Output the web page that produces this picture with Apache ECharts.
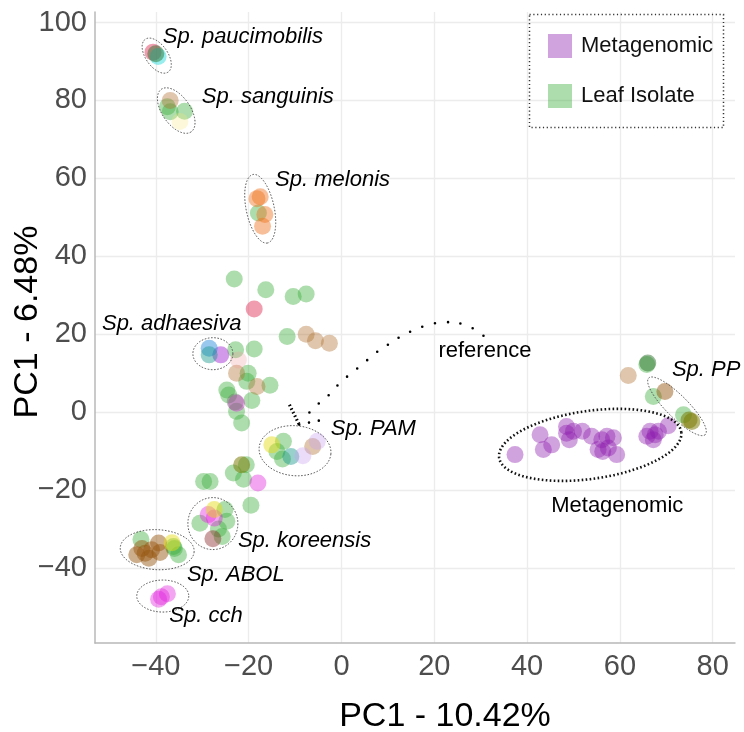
<!DOCTYPE html>
<html>
<head>
<meta charset="utf-8">
<script src="https://cdn.jsdelivr.net/npm/echarts@6/dist/echarts.min.js"></script>
<style>
  html, body { margin: 0; padding: 0; background: #ffffff; }
  #chart { width: 744px; height: 732px; }
</style>
</head>
<body>
<div id="chart"></div>
<script>
// ---- PCA scores (PC1 axis, PC2 axis) ----
const metagenomic = [[37.4,-10.9],[42.8,-5.8],[43.5,-9.6],[45.3,-8.4],[48.5,-3.7],[48.5,-5.4],[49.1,-7.1],
  [50.0,-4.9],[51.9,-4.9],[53.9,-6.2],[55.3,-9.6],[56.1,-7.1],[57.2,-6.2],[57.5,-9.2],[58.6,-6.6],
  [59.3,-10.9],[56.3,-10.1],[65.8,-6.2],[66.5,-4.9],[67.2,-7.1],[67.6,-5.8],[68.3,-4.9],[70.4,-3.5]];

const isolateGreen = [[-37.5,78.4],[-36.9,77.1],[-33.8,77.2],[-17.9,51.1],[-23.1,34.2],[-16.3,31.4],
  [-10.4,29.7],[-7.6,30.3],[-11.7,19.4],[-22.8,16.0],[-18.8,16.2],[-20.1,10.0],[-20.4,7.9],[-15.4,6.9],
  [-24.7,5.7],[-24.3,4.4],[-19.3,3.0],[-22.6,0.2],[-21.5,-2.8],[-12.5,-7.5],[-13.9,-10.1],[-12.7,-12.0],
  [-20.5,-13.5],[-23.3,-15.6],[-21.1,-17.2],[-29.7,-17.8],[-28.3,-17.8],[-19.5,-23.9],[-30.5,-28.5],
  [-25.1,-25.0],[-24.7,-28.0],[-25.7,-31.9],[-26.5,-30.0],[-43.2,-32.7],[-36.2,-34.5],[-35.1,-36.6],
  [-36.0,-35.0],[65.8,12.2],[67.2,4.0],[73.7,-0.7]];
const isolateTan = [[-36.9,80.0],[-7.6,20.0],[-5.6,18.3],[-2.6,17.7],[-22.6,10.0],[-18.2,6.6],[-6.2,-8.8],[61.8,9.4]];
const isolateBrown = [[-44.1,-36.6],[-42.3,-36.2],[-40.9,-35.3],[-39.4,-33.6],[-39.1,-36.0],[-41.5,-37.5],[-43.0,-35.0],[69.7,5.3]];
const isolateOrange = [[-18.2,54.8],[-17.5,55.3],[-16.5,50.7],[-17.0,47.7]];
const isolatePink = [[-18.8,26.5],[-40.6,92.4]];
const isolateBlush = [[-22.2,13.4]];
const isolateMagenta = [[-22.6,2.3],[-18.0,-18.2],[-28.7,-26.3],[-27.4,-27.2],[-39.4,-48.0],[-37.5,-46.6],[-38.8,-47.4]];
const isolateViolet = [[-26.0,14.7]];
const isolateYellow = [[-15.0,-8.4],[-27.4,-25.0],[-36.5,-33.5]];
const isolatePaleYellow = [[-34.8,74.6]];
const isolateBlue = [[-28.5,16.4]];
const isolateTeal = [[-28.5,14.7],[-10.9,-11.4]];
const isolateCyan = [[-39.5,91.3]];
const isolateLavender = [[-8.3,-11.2],[-5.2,-7.5]];
const isolateOlive = [[-21.5,-13.5],[74.9,-2.0],[75.5,-2.4]];
const isolateDarkGreen = [[-40.0,92.0],[66.0,12.6]];
const isolateMaroon = [[-27.7,-32.5]];
const isolateGray = [[-22.9,2.6]];

// ---- axis ticks ----
const xTicks = [-40, -20, 0, 20, 40, 60, 80];
const yTicks = [-40, -20, 0, 20, 40, 60, 80, 100];

// ---- group annotations: centre of each ellipse (data units) and label anchor ----
const groupNames   = ['Sp. paucimobilis','Sp. sanguinis','Sp. melonis','Sp. adhaesiva','Sp. PAM','Sp. koreensis','Sp. ABOL','Sp. cch','Sp. PP','Metagenomic'];
const groupCentres = [[-39.8,91.5],[-35.6,77.4],[-17.5,52.2],[-27.7,15.0],[-10.0,-9.9],[-27.7,-28.6],[-39.7,-35.3],[-38.5,-47.2],[72.3,1.5],[53.6,-8.4]];
const groupLabelAt = [[-38.5,96.3],[-30.1,81.0],[-14.3,59.6],[-51.6,22.6],[-2.3,-4.3],[-22.3,-33.0],[-33.3,-41.7],[-37.1,-52.4],[71.2,10.9],[45.2,-24.0]];

// reference arrow paths
const referenceCurve = [[-6.9,-0.1],[-4.8,2.3],[-2.6,4.5],[-0.9,6.8],[1.1,9.0],[3.3,11.1],[5.4,13.2],[7.5,15.3],
  [10.0,17.3],[12.6,19.3],[15.5,21.0],[18.9,22.4],[22.5,23.1],[26.1,22.6],[29.1,20.9],[31.4,18.8]];
const pamLeader = [[-9.1,-3.2],[-2.9,-1.7]];
const pamStub = [[-11.2,1.9],[-9.1,-3.2]];
const referenceLabelAt = [20.9, 15.8];

// ---- styling ----
const FONT = '"Liberation Sans", Arial, Helvetica, sans-serif';
const palette = {
  metagenomic: 'rgba(141,26,173,0.5)',
  green: 'rgba(51,170,51,0.5)',
  tan: 'rgba(176,112,48,0.5)',
  brown: 'rgba(150,85,15,0.6)',
  orange: 'rgba(238,112,24,0.55)',
  pink: 'rgba(225,50,90,0.6)',
  blush: 'rgba(240,150,150,0.35)',
  magenta: 'rgba(225,30,220,0.5)',
  violet: 'rgba(160,40,210,0.6)',
  yellow: 'rgba(230,220,20,0.6)',
  paleYellow: 'rgba(245,230,120,0.35)',
  blue: 'rgba(40,140,220,0.6)',
  teal: 'rgba(20,150,140,0.55)',
  cyan: 'rgba(40,220,220,0.6)',
  lavender: 'rgba(200,160,240,0.45)',
  olive: 'rgba(120,120,0,0.65)',
  darkGreen: 'rgba(40,110,40,0.6)',
  maroon: 'rgba(140,40,40,0.55)',
  gray: 'rgba(110,110,110,0.5)'
};
const isolateGroups = [
  [isolateGreen, 'green'], [isolateTan, 'tan'], [isolateBrown, 'brown'], [isolateOrange, 'orange'],
  [isolatePink, 'pink'], [isolateBlush, 'blush'], [isolateMagenta, 'magenta'], [isolateViolet, 'violet'],
  [isolateYellow, 'yellow'], [isolatePaleYellow, 'paleYellow'], [isolateBlue, 'blue'], [isolateTeal, 'teal'],
  [isolateCyan, 'cyan'], [isolateLavender, 'lavender'], [isolateOlive, 'olive'], [isolateDarkGreen, 'darkGreen'],
  [isolateMaroon, 'maroon'], [isolateGray, 'gray']
];
// ellipse outline geometry in screen pixels: [semi-major, semi-minor, tilt in degrees]
const ellipseShape = [[20,11,55],[26,14,55],[35,14,78],[20,16,0],[36,25,5],[25,26,0],[37,20,3],[26,16,0],[40,11,45],[92,34,-8]];
const italicLabel = [true,true,true,true,true,true,true,true,true,false];

const isolateData = [];
isolateGroups.forEach(([pts, key]) => {
  pts.forEach(p => isolateData.push({ value: p, itemStyle: { color: palette[key] } }));
});

const minus = v => String(v).replace('-', '\u2212');

const chart = echarts.init(document.getElementById('chart'), null, { renderer: 'canvas' });

const option = {
  backgroundColor: '#ffffff',
  animation: false,
  textStyle: { fontFamily: FONT },
  grid: { left: 95, right: 9, top: 12, bottom: 89 },
  xAxis: {
    type: 'value', min: -53.1, max: 84.8, splitNumber: 7, minInterval: 20, maxInterval: 20,
    axisLine: { show: true, onZero: false, lineStyle: { color: '#b8b8b8', width: 1.5 } },
    axisTick: { show: false },
    axisLabel: {
      color: '#4d4d4d', fontSize: 29, fontFamily: FONT, margin: 9,
      showMinLabel: false, showMaxLabel: false,
      formatter: v => xTicks.includes(v) ? minus(v) : ''
    },
    splitLine: { show: true, showMinLine: false, showMaxLine: false, lineStyle: { color: '#ececec', width: 1.3 } }
  },
  yAxis: {
    type: 'value', min: -59.25, max: 102.7, splitNumber: 8, minInterval: 20, maxInterval: 20,
    axisLine: { show: true, onZero: false, lineStyle: { color: '#b8b8b8', width: 1.5 } },
    axisTick: { show: false },
    axisLabel: {
      color: '#4d4d4d', fontSize: 29, fontFamily: FONT, margin: 8,
      showMinLabel: false, showMaxLabel: false,
      formatter: v => yTicks.includes(v) ? minus(v) : ''
    },
    splitLine: { show: true, showMinLine: false, showMaxLine: false, lineStyle: { color: '#ececec', width: 1.3 } }
  },
  legend: {
    data: ['Metagenomic', 'Leaf Isolate'],
    orient: 'vertical', left: 543, top: 29,
    itemWidth: 24, itemHeight: 24, itemGap: 26, icon: 'rect',
    selectedMode: false,
    textStyle: { fontSize: 22, color: '#111', fontFamily: FONT, padding: [0, 0, 0, 4] }
  },
  graphic: [
    { type: 'rect', left: 527, top: 12, z: 100,
      shape: { width: 194, height: 113 },
      style: { fill: null, stroke: '#333', lineWidth: 1.5, lineDash: [1.2, 2.6] } },
    { type: 'text', x: 445, y: 717, z: 100,
      style: { text: 'PC1 - 10.42%', fontSize: 34, fontFamily: FONT, fill: '#000', align: 'center', verticalAlign: 'middle' } },
    { type: 'text', x: 28, y: 322, rotation: Math.PI / 2, z: 100,
      style: { text: 'PC1 - 6.48%', fontSize: 34, fontFamily: FONT, fill: '#000', align: 'center', verticalAlign: 'middle' } }
  ],
  series: [
    {
      name: 'Leaf Isolate', type: 'scatter', symbolSize: 17, z: 2,
      itemStyle: { color: palette.green },
      data: isolateData
    },
    {
      name: 'Metagenomic', type: 'scatter', symbolSize: 17, z: 2,
      itemStyle: { color: palette.metagenomic },
      data: metagenomic
    },
    {
      name: 'groups', type: 'custom', coordinateSystem: 'cartesian2d', z: 5, silent: true,
      data: groupCentres,
      renderItem: (params, api) => {
        const c = api.coord([api.value(0), api.value(1)]);
        const [rx, ry, deg] = ellipseShape[params.dataIndex];
        const a = deg * Math.PI / 180;
        const pts = [];
        for (let i = 0; i <= 120; i++) {
          const t = i / 120 * 2 * Math.PI;
          pts.push([
            c[0] + rx * Math.cos(t) * Math.cos(a) - ry * Math.sin(t) * Math.sin(a),
            c[1] + rx * Math.cos(t) * Math.sin(a) + ry * Math.sin(t) * Math.cos(a)
          ]);
        }
        const bold = !italicLabel[params.dataIndex];
        return {
          type: 'polyline', shape: { points: pts },
          style: bold
            ? { fill: null, stroke: '#111', lineWidth: 2.6, lineDash: [1.6, 2.4] }
            : { fill: null, stroke: '#444', lineWidth: 0.9, lineDash: [1.6, 1.6] }
        };
      }
    },
    {
      name: 'group labels', type: 'custom', coordinateSystem: 'cartesian2d', z: 6, silent: true,
      data: groupLabelAt,
      renderItem: (params, api) => {
        const c = api.coord([api.value(0), api.value(1)]);
        return {
          type: 'text', x: c[0], y: c[1],
          style: {
            text: groupNames[params.dataIndex], fill: '#000',
            fontSize: 22, fontFamily: FONT,
            fontStyle: italicLabel[params.dataIndex] ? 'italic' : 'normal',
            align: 'left', verticalAlign: 'middle'
          }
        };
      }
    },
    {
      name: 'reference label', type: 'custom', coordinateSystem: 'cartesian2d', z: 6, silent: true,
      data: [referenceLabelAt],
      renderItem: (params, api) => {
        const c = api.coord([api.value(0), api.value(1)]);
        return {
          type: 'text', x: c[0], y: c[1],
          style: { text: 'reference', fill: '#000', fontSize: 22, fontFamily: FONT, align: 'left', verticalAlign: 'middle' }
        };
      }
    },
    {
      name: 'reference path', type: 'line', data: referenceCurve, smooth: true, symbol: 'none', z: 6, silent: true,
      lineStyle: { color: '#000', width: 2.6, type: [0, 13], cap: 'round' }
    },
    {
      name: 'PAM leader', type: 'line', data: pamLeader, symbol: 'none', z: 6, silent: true,
      lineStyle: { color: '#000', width: 2.6, type: [0, 10], cap: 'round' }
    },
    {
      name: 'PAM stub', type: 'line', data: pamStub, symbol: 'none', z: 6, silent: true,
      lineStyle: { color: '#000', width: 3.2, type: [1.5, 2.5], cap: 'butt' }
    }
  ]
};

chart.setOption(option);
</script>
</body>
</html>
